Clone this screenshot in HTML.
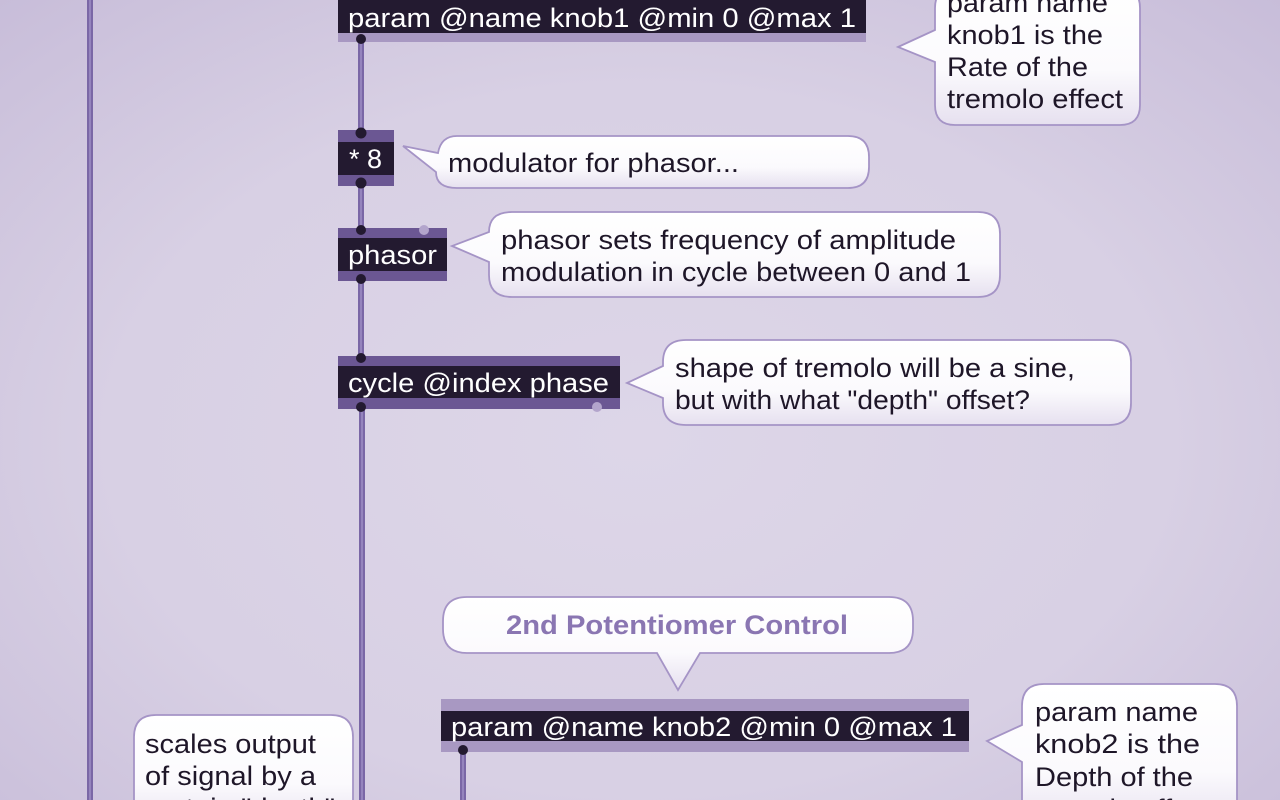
<!DOCTYPE html>
<html><head><meta charset="utf-8">
<style>
html,body{margin:0;padding:0;width:1280px;height:800px;overflow:hidden}
body{background:radial-gradient(ellipse 75% 80% at 50% 55%, #ddd6e8 0%, #d8d0e4 55%, #c6bbd8 100%);}
svg{position:absolute;left:0;top:0}
text{font-family:"Liberation Sans",Arial,sans-serif}
</style></head><body>
<svg width="1280" height="800" viewBox="0 0 1280 800">
<defs>
<linearGradient id="bub" x1="0" y1="0" x2="0" y2="1">
<stop offset="0" stop-color="#ffffff"/><stop offset="0.6" stop-color="#fbfafd"/><stop offset="1" stop-color="#e6e0ef"/>
</linearGradient>
</defs>
<g>
<rect x="87" y="0" width="6" height="800" fill="#7a67a6"/><rect x="89" y="0" width="2" height="800" fill="#9584bd"/>
<rect x="358" y="40" width="6" height="92" fill="#7a67a6"/><rect x="360" y="40" width="2" height="92" fill="#9584bd"/>
<rect x="358" y="184" width="6" height="46" fill="#7a67a6"/><rect x="360" y="184" width="2" height="46" fill="#9584bd"/>
<rect x="358" y="279" width="6" height="79" fill="#7a67a6"/><rect x="360" y="279" width="2" height="79" fill="#9584bd"/>
<rect x="359" y="407" width="6" height="393" fill="#7a67a6"/><rect x="361" y="407" width="2" height="393" fill="#9584bd"/>
<rect x="460" y="750" width="6" height="50" fill="#7a67a6"/><rect x="462" y="750" width="2" height="50" fill="#9584bd"/>
</g>
<g lengthAdjust="spacingAndGlyphs">
<rect x="338" y="0" width="528" height="33" fill="#231a30"/>
<rect x="338" y="33" width="528" height="9" fill="#a898c2"/>
<circle cx="361" cy="39" r="5" fill="#231a30"/>
<text x="348" y="27" font-size="27" fill="#fff" textLength="508" lengthAdjust="spacingAndGlyphs">param @name knob1 @min 0 @max 1</text>

<rect x="338" y="130" width="56" height="56" fill="#6b5793"/>
<rect x="338" y="142" width="56" height="33" fill="#231a30"/>
<circle cx="361" cy="133" r="5.5" fill="#231a30"/><circle cx="361" cy="183" r="5.5" fill="#231a30"/>
<text x="349" y="168" font-size="27" fill="#fff" textLength="33" lengthAdjust="spacingAndGlyphs">* 8</text>

<rect x="338" y="228" width="109" height="53" fill="#6b5793"/>
<rect x="338" y="238" width="109" height="33" fill="#231a30"/>
<circle cx="361" cy="230" r="5" fill="#231a30"/><circle cx="361" cy="279" r="5" fill="#231a30"/>
<circle cx="424" cy="230" r="5" fill="#b3a5cc"/>
<text x="348" y="264" font-size="27" fill="#fff" textLength="89" lengthAdjust="spacingAndGlyphs">phasor</text>

<rect x="338" y="356" width="282" height="53" fill="#6b5793"/>
<rect x="338" y="366" width="282" height="32" fill="#231a30"/>
<circle cx="361" cy="358" r="5" fill="#231a30"/><circle cx="361" cy="407" r="5" fill="#231a30"/>
<circle cx="597" cy="407" r="5" fill="#b3a5cc"/>
<text x="348" y="392" font-size="27" fill="#fff" textLength="261" lengthAdjust="spacingAndGlyphs">cycle @index phase</text>

<rect x="441" y="699" width="528" height="53" fill="#a898c2"/>
<rect x="441" y="711" width="528" height="30" fill="#231a30"/>
<circle cx="463" cy="750" r="5" fill="#231a30"/>
<text x="451" y="736" font-size="27" fill="#fff" textLength="506" lengthAdjust="spacingAndGlyphs">param @name knob2 @min 0 @max 1</text>
</g>
<g fill="url(#bub)" stroke="#a594c6" stroke-width="1.8">
<path d="M955,-12 H1120 Q1140,-12 1140,8 V105 Q1140,125 1120,125 H955 Q935,125 935,105 V62 L898,47 L935,30 V8 Q935,-12 955,-12 Z"/>
<path d="M457,136 H848 Q869,136 869,157 V167 Q869,188 848,188 H457 Q436,188 436,172 L403,146 L438,153 Q441,136 457,136 Z"/>
<path d="M512,212 H978 Q1000,212 1000,234 V275 Q1000,297 978,297 H512 Q489,297 489,275 V262 L452,246 L489,232 Q489,212 512,212 Z"/>
<path d="M686,340 H1109 Q1131,340 1131,362 V403 Q1131,425 1109,425 H686 Q663,425 663,403 V398 L627,383 L663,366 V362 Q663,340 686,340 Z"/>
<path d="M467,597 H889 Q913,597 913,621 V629 Q913,653 889,653 H700 L678,690 L657,653 H467 Q443,653 443,629 V621 Q443,597 467,597 Z"/>
<path d="M1044,684 H1215 Q1237,684 1237,706 V830 H1022 V762 L987,741 L1022,725 V706 Q1022,684 1044,684 Z"/>
<path d="M156,715 H331 Q353,715 353,737 V830 H134 V737 Q134,715 156,715 Z"/>
</g>
<g font-size="27" fill="#1e1628">
<text x="947" y="12" textLength="161" lengthAdjust="spacingAndGlyphs">param name</text>
<text x="947" y="44" textLength="156" lengthAdjust="spacingAndGlyphs">knob1 is the</text>
<text x="947" y="76" textLength="141" lengthAdjust="spacingAndGlyphs">Rate of the</text>
<text x="947" y="108" textLength="176" lengthAdjust="spacingAndGlyphs">tremolo effect</text>
<text x="448" y="172" textLength="291" lengthAdjust="spacingAndGlyphs">modulator for phasor...</text>
<text x="501" y="249" textLength="455" lengthAdjust="spacingAndGlyphs">phasor sets frequency of amplitude</text>
<text x="501" y="281" textLength="470" lengthAdjust="spacingAndGlyphs">modulation in cycle between 0 and 1</text>
<text x="675" y="377" textLength="400" lengthAdjust="spacingAndGlyphs">shape of tremolo will be a sine,</text>
<text x="675" y="409" textLength="355" lengthAdjust="spacingAndGlyphs">but with what "depth" offset?</text>
<text x="1035" y="721" textLength="163" lengthAdjust="spacingAndGlyphs">param name</text>
<text x="1035" y="753" textLength="165" lengthAdjust="spacingAndGlyphs">knob2  is the</text>
<text x="1035" y="786" textLength="158" lengthAdjust="spacingAndGlyphs">Depth of the</text>
<text x="1035" y="818" textLength="176" lengthAdjust="spacingAndGlyphs">tremolo effect</text>
<text x="145" y="753" textLength="171" lengthAdjust="spacingAndGlyphs">scales output</text>
<text x="145" y="785" textLength="171" lengthAdjust="spacingAndGlyphs">of signal by a</text>
<text x="145" y="817" textLength="190" lengthAdjust="spacingAndGlyphs">certain "depth"</text>
</g>
<text x="506" y="634" font-size="27" font-weight="bold" fill="#8a76b2" textLength="342" lengthAdjust="spacingAndGlyphs">2nd Potentiomer Control</text>
</svg>
</body></html>
